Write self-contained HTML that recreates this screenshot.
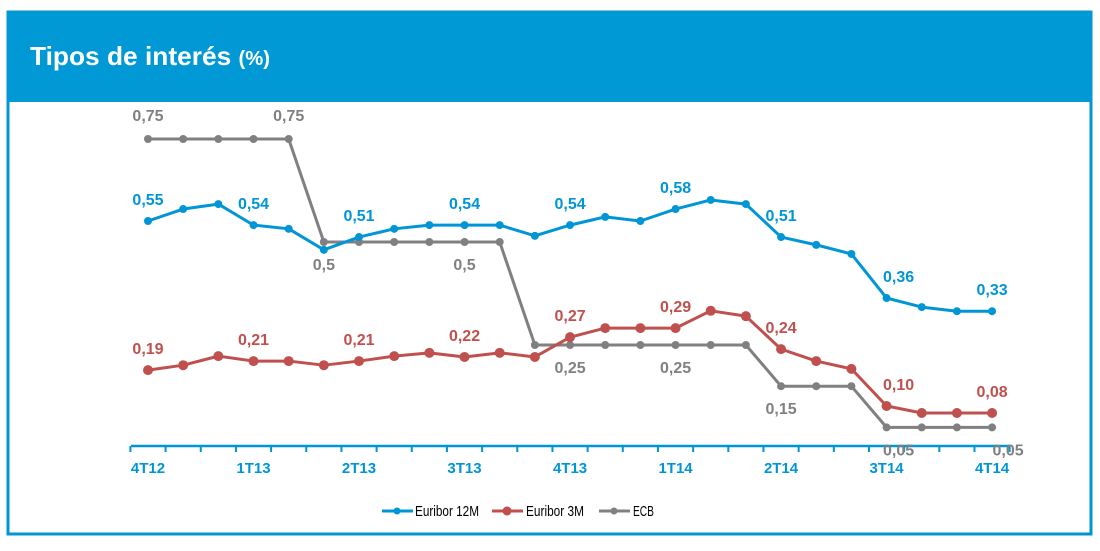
<!DOCTYPE html>
<html><head><meta charset="utf-8"><style>
body{margin:0;width:1100px;height:546px;background:#fff;overflow:hidden;font-family:"Liberation Sans",sans-serif}
</style></head><body>
<svg width="1100" height="546" xmlns="http://www.w3.org/2000/svg" font-family="Liberation Sans, sans-serif">
<rect x="8" y="12" width="1083" height="522" fill="#fff" stroke="#0096D6" stroke-width="3"/>
<rect x="7" y="12" width="1085" height="90" fill="#0099D6"/>
<text x="30" y="65" fill="#fff" font-weight="bold" font-size="26" textLength="240" lengthAdjust="spacingAndGlyphs">Tipos de interés <tspan font-size="20">(%)</tspan></text>
<g id="plot"></g>
<g>
<line x1="382" y1="511" x2="413" y2="511" stroke="#0096D6" stroke-width="3"/><circle cx="397" cy="511" r="3.5" fill="#0096D6"/>
<text x="415" y="516" font-size="15" fill="#000" textLength="64" lengthAdjust="spacingAndGlyphs">Euribor 12M</text>
<line x1="492" y1="511" x2="523" y2="511" stroke="#C0504D" stroke-width="3"/><circle cx="507" cy="511" r="4.5" fill="#C0504D"/>
<text x="526" y="516" font-size="15" fill="#000" textLength="58" lengthAdjust="spacingAndGlyphs">Euribor 3M</text>
<line x1="599" y1="511" x2="630" y2="511" stroke="#808080" stroke-width="3"/><circle cx="614" cy="511" r="3.5" fill="#808080"/>
<text x="633" y="516" font-size="15" fill="#000" textLength="21" lengthAdjust="spacingAndGlyphs">ECB</text>
</g>
</svg>
<script>
const categories=["4T12","1T13","2T13","3T13","4T13","1T14","2T14","3T14","4T14"];
const euribor12=[0.551,0.580,0.592,0.541,0.532,0.481,0.512,0.532,0.541,0.541,0.541,0.515,0.541,0.561,0.551,0.580,0.602,0.592,0.512,0.493,0.471,0.364,0.342,0.332,0.332];
const euribor3=[0.189,0.201,0.223,0.211,0.211,0.201,0.211,0.223,0.231,0.221,0.231,0.221,0.269,0.291,0.291,0.291,0.333,0.320,0.240,0.211,0.192,0.102,0.085,0.085,0.085];
const ecb=[0.75,0.75,0.75,0.75,0.75,0.5,0.5,0.5,0.5,0.5,0.5,0.25,0.25,0.25,0.25,0.25,0.25,0.25,0.15,0.15,0.15,0.05,0.05,0.05,0.05];
const lbl12=[[0,"0,55"],[3,"0,54"],[6,"0,51"],[9,"0,54"],[12,"0,54"],[15,"0,58"],[18,"0,51"],[21,"0,36"],[24,"0,33"]];
const lbl3=[[0,"0,19"],[3,"0,21"],[6,"0,21"],[9,"0,22"],[12,"0,27"],[15,"0,29"],[18,"0,24"],[21,"0,10"],[24,"0,08"]];
const lblEcb=[[0,"0,75",-1],[4,"0,75",-1],[5,"0,5",1],[9,"0,5",1],[12,"0,25",1],[15,"0,25",1],[18,"0,15",1],[21,"0,05",1],[24,"0,05",1]];
const NS="http://www.w3.org/2000/svg";
const g=document.getElementById('plot');
const X0=148,DX=35.17,Y0=448,SY=412;
const xs=i=>X0+DX*i, ys=v=>Y0-v*SY;
function mk(t,a){const e=document.createElementNS(NS,t);for(const k in a)e.setAttribute(k,a[k]);g.appendChild(e);return e;}
const ax=mk('line',{x1:131,y1:446,x2:1010,y2:446,stroke:'#0096D6','stroke-width':2.5});


for(let i=0;i<=25;i++){const t=mk('line',{x1:X0-DX/2+DX*i,y1:446,x2:X0-DX/2+DX*i,y2:452,stroke:'#0096D6','stroke-width':2});

}
categories.forEach((c,k)=>{const t=mk('text',{x:xs(k*3),y:473,'text-anchor':'middle','font-size':15,'font-weight':'bold',fill:'#0096D6'});t.textContent=c;

});
function series(vals,col,r,name){
 const p=mk('polyline',{points:vals.map((v,i)=>xs(i)+','+ys(v)).join(' '),fill:'none',stroke:col,'stroke-width':3,'stroke-linejoin':'round'});
 
 
 vals.forEach((v,i)=>{const c=mk('circle',{cx:xs(i),cy:ys(v),r:r,fill:col});
 
 });
}
series(ecb,'#808080',4,'ecb');
series(euribor12,'#0096D6',4,'euribor-12m');
series(euribor3,'#C0504D',5,'euribor-3m');
function labels(arr,vals,col,name,dy){
 arr.forEach(a=>{const d=a[2]!==undefined?(a[2]<0?-18:28):dy;
 const t=mk('text',{x:xs(a[0])+(a[0]==21?12:0)+(a[0]==24&&name=='ecb'?16:0),y:ys(vals[a[0]])+d,'text-anchor':'middle','font-size':16,'font-weight':'bold',fill:col});
 t.textContent=a[1];
 
 });
}
labels(lbl12,euribor12,'#0096D6','euribor-12m',-16);
labels(lbl3,euribor3,'#C0504D','euribor-3m',-16);
labels(lblEcb,ecb,'#808080','ecb',0);
</script>
</body></html>
